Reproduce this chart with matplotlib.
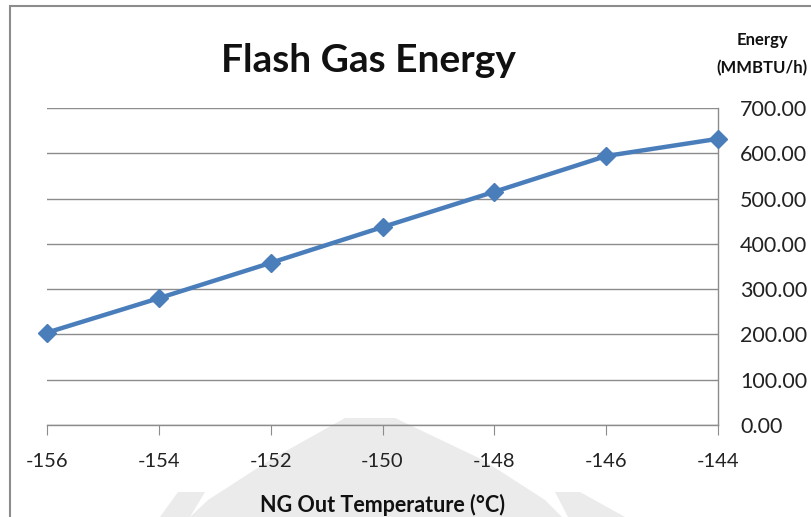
import numpy as np
import matplotlib
matplotlib.use('Agg')
import matplotlib.pyplot as plt
from matplotlib.patches import Polygon, Rectangle

plt.rcParams['font.family'] = ['Lato', 'DejaVu Sans']

# data
temps = [-156, -154, -152, -150, -148, -146, -144]
energy = [204, 280, 358, 437, 515, 594, 632]
x_ticks = [-156, -154, -152, -150, -148, -146, -144]
y_ticks = [0, 100, 200, 300, 400, 500, 600, 700]

W, H = 811, 517
fig = plt.figure(figsize=(W / 100, H / 100), dpi=100)

# faint scan watermark behind everything
def px(pts):
    return [(x / W, 1 - y / H) for x, y in pts]

wm = '#ebebeb'
for pts in [
    [(345, 418), (395, 418), (483, 460), (545, 500), (562, 517), (190, 517), (208, 500), (270, 460)],
    [(178, 492), (205, 492), (190, 517), (160, 517)],
    [(555, 492), (580, 492), (625, 517), (568, 517)],
]:
    fig.patches.append(Polygon(px(pts), closed=True, transform=fig.transFigure,
                               facecolor=wm, edgecolor='none', zorder=-2))

# outer frame of the chart (only top and left visible)
fig.patches.append(Rectangle((10 / W, -0.1), 1.2, 1 - 6 / H + 0.1, transform=fig.transFigure,
                             facecolor='none', edgecolor='#8c8c8c', linewidth=1.5, zorder=-1))

ax = fig.add_axes([47 / W, 1 - 425 / H, (718 - 47) / W, (425 - 108) / H])
ax.patch.set_alpha(0)

ax.plot(temps, energy, color='#4a7ebb', linewidth=3.2, marker='D', markersize=9.5,
        markerfacecolor='#4a7ebb', markeredgecolor='#4a7ebb', zorder=3, clip_on=False)

ax.set_xlim(-156, -144)
ax.set_ylim(0, 700)
ax.set_xticks(x_ticks)
ax.set_xticklabels([str(t) for t in x_ticks])
ax.set_yticks(y_ticks)
ax.set_yticklabels([f'{v:.2f}' for v in y_ticks])
ax.yaxis.tick_right()
ax.grid(axis='y', color='#8c8c8c', linewidth=1)
ax.set_axisbelow(True)

for s in ['left', 'top']:
    ax.spines[s].set_visible(False)
for s in ['right', 'bottom']:
    ax.spines[s].set_color('#8c8c8c')
    ax.spines[s].set_linewidth(1)

ax.tick_params(axis='x', direction='out', length=7, color='#8c8c8c', labelsize=14.5,
               pad=13, labelcolor='#222222')
ax.tick_params(axis='y', length=0, labelsize=15.5, pad=16, labelcolor='#222222')

fig.text(368 / W, 1 - 60 / H, 'Flash Gas Energy', ha='center', va='center',
         fontsize=28, fontweight='bold', color='#111111')
fig.text(762 / W, 1 - 40 / H, 'Energy', ha='center', va='center',
         fontsize=12, fontweight='bold', color='#111111')
fig.text(762 / W, 1 - 68 / H, '(MMBTU/h)', ha='center', va='center',
         fontsize=12, fontweight='bold', color='#111111')
fig.text(383 / W, 1 - 505 / H, 'NG Out Temperature (°C)', ha='center', va='center',
         fontsize=15.5, fontweight='bold', color='#111111')

fig.savefig('out.png', dpi=100)
